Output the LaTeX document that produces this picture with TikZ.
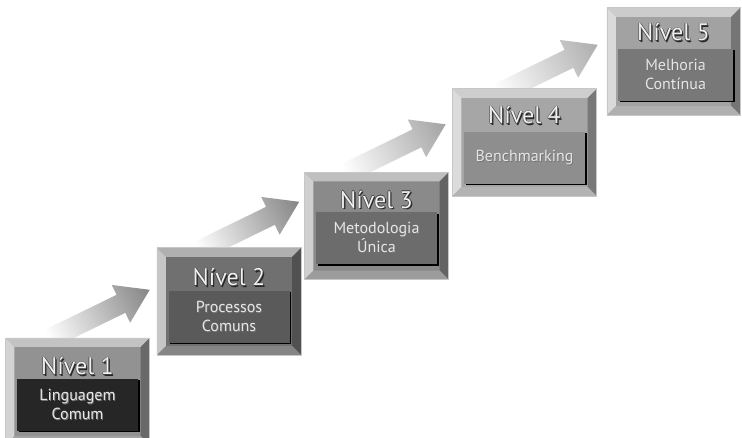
\documentclass[tikz,border=0pt]{standalone}
\usepackage{fontspec}
\setmainfont{PT Sans}
\usetikzlibrary{calc,shadows,backgrounds}

% face and label-panel colours of the five levels
\definecolor{faceA}{HTML}{929292}\definecolor{panelA}{HTML}{262626}
\definecolor{faceB}{HTML}{707070}\definecolor{panelB}{HTML}{5A5A5A}
\definecolor{faceC}{HTML}{8A8A8A}\definecolor{panelC}{HTML}{6C6C6C}
\definecolor{faceD}{HTML}{A6A6A6}\definecolor{panelD}{HTML}{8E8E8E}
\definecolor{faceE}{HTML}{A2A2A2}\definecolor{panelE}{HTML}{787878}
\definecolor{paneltext}{HTML}{E6E6E6}

% heading text: light letters with a dark rim and a drop shadow
\newcommand\embossed[1]{%
  \rlap{\kern1.3pt\lower1.3pt\hbox{\color{black!85}#1}}%
  \rlap{\kern-.6pt\hbox{\color{black!75}#1}}%
  \rlap{\kern.6pt\hbox{\color{black!75}#1}}%
  \rlap{\raise.6pt\hbox{\color{black!75}#1}}%
  \rlap{\lower.6pt\hbox{\color{black!75}#1}}%
  \hbox{\color{white!94!black}#1}}
% panel text with a soft shadow
\newcommand\softshadow[1]{%
  \rlap{\kern.8pt\lower.8pt\hbox{\color{black!55}#1}}\hbox{\color{paneltext}#1}}

\tikzset{
  lvlbox/.style={minimum width=144pt, minimum height=107pt, inner sep=0pt, fill=#1},
  panel/.style={minimum width=121pt, minimum height=52pt, inner sep=0pt, fill=#1,
    align=center, font=\fontsize{16}{19}\selectfont,
    drop shadow={shadow xshift=1.6pt, shadow yshift=-1.6pt, fill=black, opacity=1}},
  heading/.style={anchor=base, inner sep=0pt, font=\fontsize{24}{28}\selectfont},
  rim/.style={draw=black!22, line width=.6pt},
}

% bevelled frame of a level box: #1 node name, #2 face colour
\newcommand\bevel[2]{%
  \fill[#2!55!white] (#1.north west) -- (#1.north east) -- ($(#1.north east)+(-9,-9)$) -- ($(#1.north west)+(9,-9)$) -- cycle;
  \fill[#2!40!white] (#1.north west) -- ($(#1.north west)+(9,-9)$) -- ($(#1.south west)+(9,9)$) -- (#1.south west) -- cycle;
  \fill[#2!72!black] (#1.north east) -- (#1.south east) -- ($(#1.south east)+(-9,9)$) -- ($(#1.north east)+(-9,-9)$) -- cycle;
  \fill[#2!85!white] (#1.south west) -- (#1.south east) -- ($(#1.south east)+(-9,9)$) -- ($(#1.south west)+(9,9)$) -- cycle;
  \draw[rim] (#1.north west) rectangle (#1.south east);}

% rising arrow: #1 tip coordinate, #2 head colour
\newcommand\stepArrow[2]{%
  \shade[transform canvas={shift={(#1)},rotate=26}, left color=white, right color=#2]
    (0,0) -- (-32,21) -- (-32,10) -- (-112,10) -- (-112,-10) -- (-32,-10) -- (-32,-21) -- cycle;}

\begin{document}
\begin{tikzpicture}[x=1pt,y=1pt]
\useasboundingbox (0,0) rectangle (742,437);

% level boxes
\node[lvlbox=faceA] (b1) at (77.5,45.5) {};
\node[lvlbox=faceB] (b2) at (229,135.5) {};
\node[lvlbox=faceC] (b3) at (376.5,211) {};
\node[lvlbox=faceD] (b4) at (524.5,294.5) {};
\node[lvlbox=faceE, minimum width=133pt] (b5) at (673.5,375.5) {};

\bevel{b1}{faceA}
\bevel{b2}{faceB}
\bevel{b3}{faceC}
\bevel{b4}{faceD}
\bevel{b5}{faceE}

% headings
\node[heading] (h1) at ($(b1.north)+(0,-37)$) {\embossed{Nível 1}};
\node[heading] (h2) at ($(b2.north)+(0,-38)$) {\embossed{Nível 2}};
\node[heading] (h3) at ($(b3.north)+(0,-36)$) {\embossed{Nível 3}};
\node[heading] (h4) at ($(b4.north)+(0,-35)$) {\embossed{Nível 4}};
\node[heading] (h5) at ($(b5.north)+(0,-33)$) {\embossed{Nível 5}};

% label panels
\node[panel=panelA] (p1) at ($(b1.north)+(0,-67)$) {\softshadow{Linguagem}\\\softshadow{Comum}};
\node[panel=panelB] (p2) at ($(b2.north)+(0,-69)$) {\softshadow{Processos}\\\softshadow{Comuns}};
\node[panel=panelC] (p3) at ($(b3.north)+(0,-66)$) {\softshadow{Metodologia}\\\softshadow{Única}};
\node[panel=panelD] (p4) at ($(b4.north)+(0,-69)$) {\softshadow{Benchmarking}};
\node[panel=panelE, minimum width=115pt] (p5) at ($(b5.north)+(2,-67)$) {\softshadow{Melhoria}\\\softshadow{Contínua}};

% arrows rising from one level to the next
\coordinate (t1) at ($(b1.north east)+(0,48)$);
\coordinate (t2) at ($(b2.north east)+(-2,46)$);
\coordinate (t3) at ($(b3.north east)+(-3,48)$);
\coordinate (t4) at ($(b4.north east)+(1,44)$);
\begin{scope}[on background layer]
  \fill[white] (0,0) rectangle (742,437);
  \stepArrow{t1}{black!48}
  \stepArrow{t2}{black!48}
  \stepArrow{t3}{black!36}
  \stepArrow{t4}{black!32}
\end{scope}
\end{tikzpicture}
\end{document}
